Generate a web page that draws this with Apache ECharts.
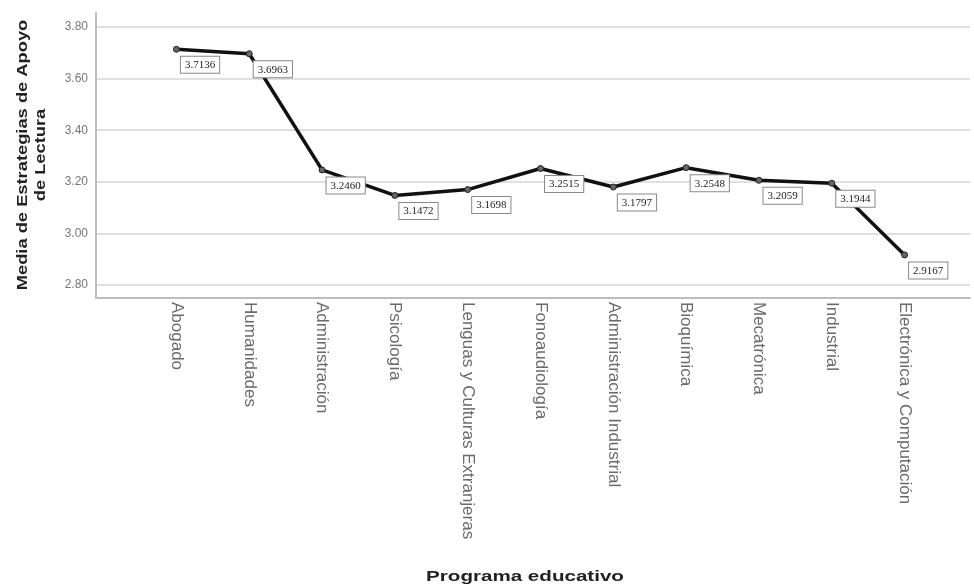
<!DOCTYPE html>
<html>
<head>
<meta charset="utf-8">
<script src="https://cdn.jsdelivr.net/npm/echarts@6/dist/echarts.min.js"></script>
<style>
html,body{margin:0;padding:0;background:#fff;}
#chart{width:974px;height:586px;}
</style>
</head>
<body>
<div id="chart"></div>
<script>
var categories = ["Abogado", "Humanidades", "Administración", "Psicología", "Lenguas y Culturas Extranjeras", "Fonoaudiología", "Administración Industrial", "Bioquímica", "Mecatrónica", "Industrial", "Electrónica y Computación"];
var means = [3.7136, 3.6963, 3.2460, 3.1472, 3.1698, 3.2515, 3.1797, 3.2548, 3.2059, 3.1944, 2.9167];
var yTicks = { min: 2.8, max: 3.8, interval: 0.2 };
var yTitle = "Media de Estrategias de Apoyo\nde Lectura";
var xTitle = "Programa educativo";

var chart = echarts.init(document.getElementById('chart'));
var option = {
  backgroundColor: '#fff',
  animation: false,
  grid: [
    { left: 96, right: 4, top: 13, bottom: 288 },
    { left: 96, right: 4, top: 27, height: 258 },
    { left: 140, width: 801, top: 27, height: 258 }
  ],
  xAxis: [
    { gridIndex: 0, type: 'value', min: 0, max: 1, axisLine: { show: true, onZero: false, lineStyle: { color: '#bdbdbd', width: 2 } }, axisTick: { show: false }, axisLabel: { show: false }, splitLine: { show: false } },
    { gridIndex: 1, type: 'value', min: 0, max: 1, show: false },
    { gridIndex: 2, type: 'category', data: categories, boundaryGap: true,
      axisLine: { show: false }, axisTick: { show: false }, splitLine: { show: false },
      axisLabel: { rotate: -90, margin: 17, interval: 0, fontFamily: 'Liberation Sans', fontSize: 17, color: '#6a6a6a' } }
  ],
  yAxis: [
    { gridIndex: 0, type: 'value', min: 2.75, max: 3.855, axisLine: { show: true, lineStyle: { color: '#bdbdbd', width: 2 } }, axisTick: { show: false }, axisLabel: { show: false }, splitLine: { show: false } },
    { gridIndex: 1, type: 'value', min: yTicks.min, max: yTicks.max, interval: yTicks.interval,
      axisLine: { show: false }, axisTick: { show: false },
      axisLabel: { margin: 8, fontFamily: 'Liberation Sans', fontSize: 12, color: '#777', formatter: function (v) { return v.toFixed(2); } },
      splitLine: { show: true, lineStyle: { color: '#d6d6d6', width: 1.5 } } },
    { gridIndex: 2, type: 'value', min: yTicks.min, max: yTicks.max, show: false }
  ],
  graphic: [
    { type: 'text', position: [32, 155], rotation: Math.PI / 2, scaleX: 1.22,
      style: { text: yTitle, fontFamily: 'Liberation Sans', fontWeight: 'bold', fontSize: 15, fill: '#222', align: 'center', verticalAlign: 'middle', lineHeight: 18 } },
    { type: 'text', position: [525, 577], scaleX: 1.47,
      style: { text: xTitle, fontFamily: 'Liberation Sans', fontWeight: 'bold', fontSize: 14, fill: '#222', align: 'center', verticalAlign: 'middle' } }
  ],
  series: [{
    type: 'line',
    xAxisIndex: 2, yAxisIndex: 2,
    data: means,
    symbol: 'circle', symbolSize: 6,
    lineStyle: { color: '#111', width: 3.5 },
    itemStyle: { color: '#666', borderColor: '#222', borderWidth: 1 },
    label: {
      show: true, position: [8, 11],
      formatter: function (p) { return p.value.toFixed(4); },
      fontFamily: 'Liberation Serif', fontSize: 11, color: '#222',
      backgroundColor: '#fff', borderColor: '#888', borderWidth: 1, padding: [3, 4, 2, 4]
    }
  }]
};
chart.setOption(option);
</script>
</body>
</html>
